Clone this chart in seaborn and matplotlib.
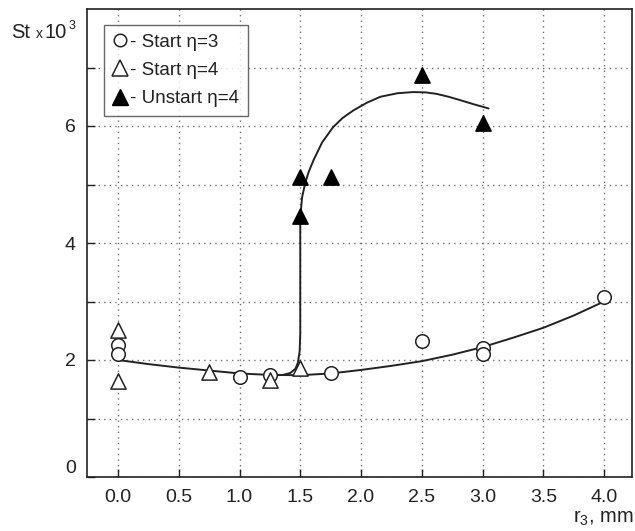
import numpy as np
import pandas as pd
import matplotlib
matplotlib.use("Agg")
import matplotlib.pyplot as plt
from matplotlib.lines import Line2D
import seaborn as sns

# ---- data ----
circ_x = [0.0, 0.0, 1.0, 1.25, 1.75, 2.5, 3.0, 3.0, 4.0]
circ_y = [2.25, 2.10, 1.71, 1.74, 1.77, 2.32, 2.21, 2.11, 3.07]

tri_x = [0.0, 0.0, 0.75, 1.25, 1.5]
tri_y = [2.52, 1.64, 1.80, 1.66, 1.87]

ftri_x = [1.5, 1.5, 1.75, 2.5, 3.0]
ftri_y = [5.12, 4.46, 5.12, 6.87, 6.05]

# fitted curves
low_x = [0.0, 0.25, 0.5, 0.75, 1.0, 1.25, 1.5, 1.75, 2.0, 2.25, 2.5, 2.75, 3.0, 3.25, 3.5, 3.75, 4.0]
low_y = [2.00, 1.93, 1.87, 1.82, 1.77, 1.745, 1.74, 1.77, 1.83, 1.90, 1.98, 2.09, 2.22, 2.38, 2.55, 2.76, 3.00]

up_x = [1.36, 1.42, 1.46, 1.48, 1.495, 1.50, 1.50, 1.505, 1.515, 1.54, 1.57, 1.61, 1.68, 1.77, 1.85, 1.94,
        2.05, 2.16, 2.30, 2.43, 2.53, 2.62, 2.72, 2.82, 2.93, 3.05]
up_y = [1.745, 1.78, 1.85, 1.95, 2.15, 2.45, 4.30, 4.55, 4.78, 5.02, 5.22, 5.42, 5.72, 5.98, 6.14, 6.27,
        6.40, 6.50, 6.56, 6.58, 6.575, 6.55, 6.50, 6.44, 6.37, 6.30]

x_ticks = [0.0, 0.5, 1.0, 1.5, 2.0, 2.5, 3.0, 3.5, 4.0]
x_ticklabels = ["0.0", "0.5", "1.0", "1.5", "2.0", "2.5", "3.0", "3.5", "4.0"]
y_ticks = [0, 1, 2, 3, 4, 5, 6, 7]
y_ticklabels = ["0", "", "2", "", "4", "", "6", ""]

legend_labels = ["- Start \u03b7=3", "- Start \u03b7=4", "- Unstart \u03b7=4"]

# ---- style ----
sns.set_theme(style="ticks")
plt.rcParams["font.family"] = ["Liberation Sans", "DejaVu Sans"]
plt.rcParams["mathtext.fontset"] = "custom"
plt.rcParams["mathtext.rm"] = "Liberation Sans"
plt.rcParams["mathtext.it"] = "Liberation Sans"

W, H = 635, 531
fig = plt.figure(figsize=(W / 100, H / 100), dpi=100)
ax = fig.add_axes([87 / W, 1 - 477 / H, (632 - 87) / W, (477 - 9) / H])

ink = "#222222"

sns.lineplot(x=low_x, y=low_y, ax=ax, color=ink, lw=1.4, sort=False, estimator=None, zorder=2)
sns.lineplot(x=up_x, y=up_y, ax=ax, color=ink, lw=1.4, sort=False, estimator=None, zorder=2)

ms = 95
sns.scatterplot(x=circ_x, y=circ_y, ax=ax, marker="o", s=ms, facecolor="white",
                edgecolor=ink, linewidth=1.1, zorder=3)
sns.scatterplot(x=tri_x, y=tri_y, ax=ax, marker="^", s=ms + 25, facecolor="white",
                edgecolor=ink, linewidth=1.1, zorder=3)
sns.scatterplot(x=ftri_x, y=ftri_y, ax=ax, marker="^", s=ms + 25, facecolor="black",
                edgecolor="black", linewidth=1.1, zorder=3)

ax.set_xlim(-0.255, 4.23)
ax.set_ylim(0, 8)
ax.set_xticks(x_ticks)
ax.set_xticklabels(x_ticklabels)
ax.set_yticks(y_ticks)
ax.set_yticklabels(y_ticklabels)
ax.tick_params(direction="in", length=6, width=1, colors=ink, labelsize=14, labelcolor=ink)
ax.tick_params(axis="x", pad=9)
ax.tick_params(axis="y", pad=8)
ax.get_yticklabels()[0].set_va("bottom")
ax.grid(True, linestyle=(0, (1, 3)), color="#707070", linewidth=1.0)
for s in ax.spines.values():
    s.set_color(ink)
    s.set_linewidth(1.2)
    s.set_visible(True)
ax.set_xlabel("")
ax.set_ylabel("")

# legend
handles = [
    Line2D([], [], marker="o", ls="none", markersize=9, markerfacecolor="white", markeredgecolor=ink, markeredgewidth=1.1),
    Line2D([], [], marker="^", ls="none", markersize=11, markerfacecolor="white", markeredgecolor=ink, markeredgewidth=1.1),
    Line2D([], [], marker="^", ls="none", markersize=11, markerfacecolor="black", markeredgecolor="black"),
]
leg = ax.legend(handles, legend_labels, loc="upper left",
                bbox_to_anchor=((104 - 87) / 545, (477 - 25) / 468), borderaxespad=0,
                fontsize=13.5, handlelength=0.8, handletextpad=0.15, labelspacing=0.6,
                frameon=True, fancybox=False, edgecolor="#444444", borderpad=0.45)
leg.get_frame().set_linewidth(1.0)
for t in leg.get_texts():
    t.set_color(ink)

# axis labels
fig.text(11 / W, 1 - 38 / H, "St", fontsize=14.5, color=ink, ha="left", va="baseline")
fig.text(36 / W, 1 - 38 / H, "x", fontsize=10, color=ink, ha="left", va="baseline")
fig.text(45 / W, 1 - 38 / H, "10", fontsize=14.5, color=ink, ha="left", va="baseline")
fig.text(69 / W, 1 - 29 / H, "3", fontsize=9, color=ink, ha="left", va="baseline")

fig.text(634 / W, 1 - 523 / H, r"r$_3$, mm", fontsize=14.5, color=ink, ha="right", va="baseline")

fig.savefig("out.png", dpi=100, facecolor="white")
